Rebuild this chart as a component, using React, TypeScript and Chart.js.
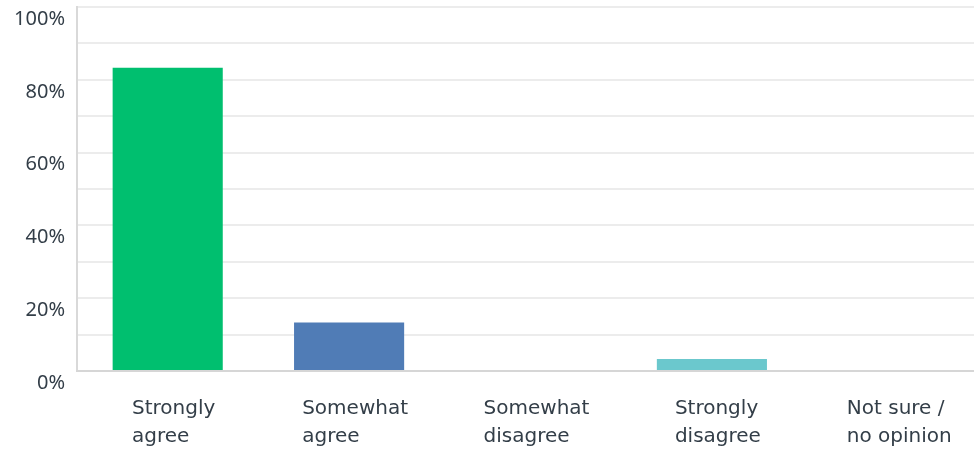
import React, { useEffect, useRef } from "react";
import { Chart, registerables } from "chart.js";

Chart.register(...registerables);

const categories: string[][] = [
  ["Strongly", "agree"],
  ["Somewhat", "agree"],
  ["Somewhat", "disagree"],
  ["Strongly", "disagree"],
  ["Not sure /", "no opinion"],
];
const values: number[] = [83.33, 13.33, 0, 3.33, 0];
const barColors: string[] = ["#00bf6f", "#507cb6", "#f9be00", "#6bc8cd", "#a0a0a0"];
const yMax = 100;
const yStep = 10;
const yLabelStep = 20;

const TEXT = "#333e48";

const leftBlockLabels = {
  id: "leftBlockLabels",
  beforeDraw(chart: any) {
    const xs = chart.scales.x;
    const items = xs.getLabelItems(chart.chartArea);
    const ctx = chart.ctx;
    items.forEach((it: any, i: number) => {
      ctx.save();
      ctx.font = it.font.string;
      const lines = Array.isArray(it.label) ? it.label : [it.label];
      let maxW = 0;
      lines.forEach((l: string) => {
        maxW = Math.max(maxW, ctx.measureText(l).width);
      });
      ctx.restore();
      const center = xs.getPixelForTick(i);
      it.options.textAlign = "left";
      it.options.translation[0] = center - maxW / 2 + 6;
    });
  },
};

export default function App() {
  const ref = useRef<HTMLCanvasElement>(null);
  useEffect(() => {
    if (!ref.current) return;
    const chart = new Chart(ref.current, {
      type: "bar",
      data: {
        labels: categories,
        datasets: [
          {
            data: values,
            backgroundColor: barColors,
            barPercentage: 0.607,
            categoryPercentage: 1,
            inflateAmount: 0,
          },
        ],
      },
      options: {
        animation: false,
        responsive: true,
        maintainAspectRatio: false,
        layout: { padding: { top: 7, right: 0, bottom: 0, left: 0 } },
        plugins: { legend: { display: false }, tooltip: { enabled: false } },
        scales: {
          x: {
            grid: { display: false, drawTicks: false },
            border: { display: true, color: "#d6d6d6", width: 2, z: 1 },
            ticks: {
              color: TEXT,
              font: { family: "DejaVu Sans", size: 20, lineHeight: 1.4 },
              padding: 24,
              autoSkip: false,
              maxRotation: 0,
            },
            afterFit: (s: any) => {
              s.height = 82;
            },
          },
          y: {
            min: 0,
            max: yMax,
            grid: {
              color: (c: any) => (c.tick && c.tick.value === 0 ? "rgba(0,0,0,0)" : "#ececec"),
              lineWidth: 2,
              drawTicks: false,
            },
            border: { display: true, color: "#d9d9d9", width: 2 },
            ticks: {
              stepSize: yStep,
              autoSkip: false,
              color: TEXT,
              font: { family: "Noto Sans", size: 20 },
              padding: 12,
              labelOffset: 12,
              callback: (v: any) => (Number(v) % yLabelStep === 0 ? `${v}%` : ""),
            },
            afterFit: (s: any) => {
              s.width = 77;
              s.paddingTop = 0;
              s.paddingBottom = 0;
            },
          },
        },
      },
      plugins: [leftBlockLabels],
    });
    return () => chart.destroy();
  }, []);
  return (
    <div style={{ position: "absolute", left: 0, top: 0, width: 974, height: 453, overflow: "hidden", background: "#fff" }}>
      <div style={{ position: "relative", width: 984, height: 453 }}>
        <canvas ref={ref} />
      </div>
    </div>
  );
}
